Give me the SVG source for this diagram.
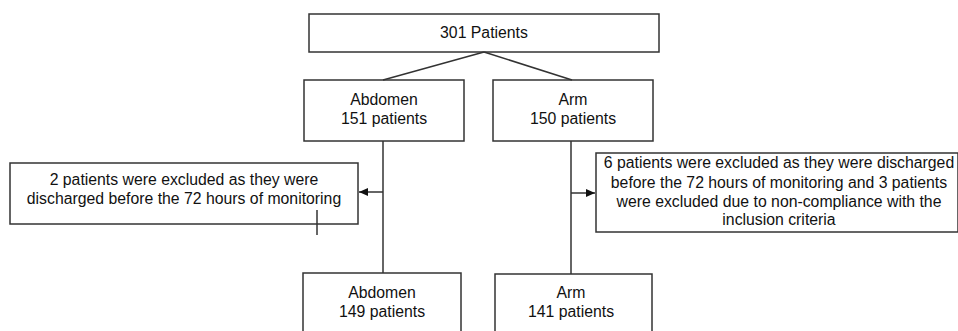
<svg xmlns="http://www.w3.org/2000/svg" width="958" height="331" viewBox="0 0 958 331">
<defs>
<style>
.box{fill:#fff;stroke:#333;stroke-width:1.5}
.t{font-family:"Liberation Sans",Arial,sans-serif;font-size:15.8px;fill:#111;text-anchor:middle}
.c{fill:none;stroke:#333;stroke-width:1.5}
</style>
<marker id="ah" markerWidth="10" markerHeight="10" refX="9" refY="5" orient="auto" markerUnits="userSpaceOnUse">
<path d="M0,1 L9,5 L0,9 Z" fill="#111"/>
</marker>
</defs>
<rect width="958" height="331" fill="#fff"/>
<g id="n_total">
<rect class="box" x="309" y="14" width="350" height="38"/>
<text class="t" x="484" y="38">301 Patients</text>
</g>
<g id="n_abdomen">
<rect class="box" x="304" y="80" width="160" height="61"/>
<text class="t" x="384" y="105">Abdomen</text>
<text class="t" x="384" y="124">151 patients</text>
</g>
<g id="n_arm">
<rect class="box" x="493" y="80" width="160" height="61"/>
<text class="t" x="573" y="105">Arm</text>
<text class="t" x="573" y="124">150 patients</text>
</g>
<g id="n_excl_abdomen">
<rect class="box" x="10" y="163" width="348" height="61"/>
<text class="t" x="184" y="185">2 patients were excluded as they were</text>
<text class="t" x="184" y="204">discharged before the 72 hours of monitoring</text>
</g>
<g id="n_excl_arm">
<rect class="box" x="596" y="153" width="362" height="79"/>
<text class="t" x="779" y="168">6 patients were excluded as they were discharged</text>
<text class="t" x="779" y="188">before the 72 hours of monitoring and 3 patients</text>
<text class="t" x="779" y="207">were excluded due to non-compliance with the</text>
<text class="t" x="779" y="225">inclusion criteria</text>
</g>
<g id="n_abdomen_final">
<rect class="box" x="303" y="273" width="158" height="70"/>
<text class="t" x="382" y="298">Abdomen</text>
<text class="t" x="382" y="317">149 patients</text>
</g>
<g id="n_arm_final">
<rect class="box" x="495" y="274" width="157" height="70"/>
<text class="t" x="571" y="298">Arm</text>
<text class="t" x="571" y="317">141 patients</text>
</g>
<g id="connectors">
<path class="c" d="M484,52 L383,80"/>
<path class="c" d="M484,52 L572,80"/>
<path class="c" d="M383,141 L383,273"/>
<path class="c" d="M571,141 L571,274"/>
<path class="c" d="M383,192 L359,192" marker-end="url(#ah)"/>
<path class="c" d="M571,193 L595,193" marker-end="url(#ah)"/>
<path class="c" d="M317,210 L317,235" stroke="#777"/>
</g>
</svg>
